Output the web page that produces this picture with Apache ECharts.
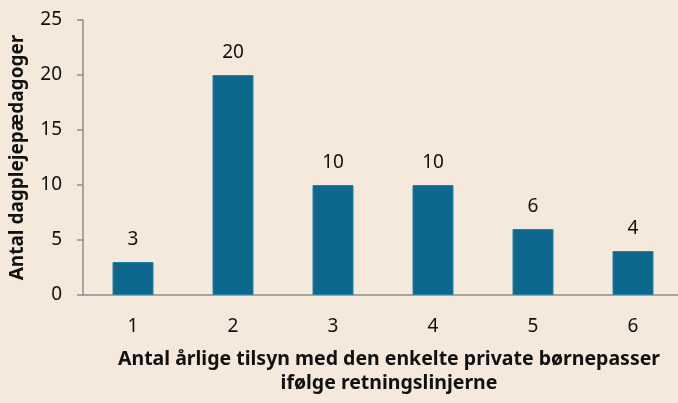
<!DOCTYPE html>
<html>
<head>
<meta charset="utf-8">
<script src="https://cdn.jsdelivr.net/npm/echarts@6/dist/echarts.min.js"></script>
<style>
  html, body { margin: 0; padding: 0; background: #f5e9dc; }
  #main { width: 678px; height: 403px; }
</style>
</head>
<body>
<div id="main"></div>
<script>
var categories = ['1', '2', '3', '4', '5', '6'];
var values = [3, 20, 10, 10, 6, 4];
var yTicks = { min: 0, max: 25, interval: 5 };

var font = '"Noto Sans", "Open Sans", sans-serif';
var chart = echarts.init(document.getElementById('main'));
chart.setOption({
    backgroundColor: '#f5e9dc',
    textStyle: { fontFamily: font },
    grid: { left: 83, right: -5, top: 20, bottom: 108, containLabel: false, outerBoundsMode: 'none' },
    xAxis: {
        type: 'category',
        data: categories,
        name: 'Antal årlige tilsyn med den enkelte private børnepasser\nifølge retningslinjerne',
        nameLocation: 'middle',
        nameGap: 52,
        nameTextStyle: { fontSize: 19.5, fontWeight: 'bold', color: '#111', lineHeight: 24, padding: [0, 0, 0, 12] },
        axisLine: { lineStyle: { color: '#8c8c8c', width: 1.5 } },
        axisTick: { length: 6, lineStyle: { color: '#8c8c8c', width: 1.5 } },
        axisLabel: { fontSize: 19, color: '#111', margin: 22 }
    },
    yAxis: {
        type: 'value',
        min: yTicks.min,
        max: yTicks.max,
        interval: yTicks.interval,
        name: 'Antal dagplejepædagoger',
        nameLocation: 'middle',
        nameGap: 56,
        nameTextStyle: { fontSize: 19, fontWeight: 'bold', color: '#111' },
        splitLine: { show: false },
        axisLine: { show: true, lineStyle: { color: '#8c8c8c', width: 1.5 } },
        axisTick: { show: true, length: 6, lineStyle: { color: '#8c8c8c', width: 1.5 } },
        axisLabel: { fontSize: 19, color: '#111', margin: 21 }
    },
    series: [{
        type: 'bar',
        data: values,
        barWidth: '41%',
        itemStyle: { color: '#0e678c', borderColor: '#1a86a6', borderWidth: 1 },
        label: { show: true, position: 'top', distance: 13, fontSize: 19, color: '#111' }
    }]
});
</script>
</body>
</html>
